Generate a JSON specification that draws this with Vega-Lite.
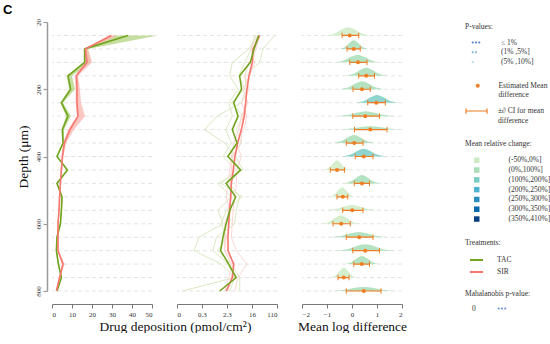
{
  "$schema": "https://vega.github.io/schema/vega-lite/v6.json",
  "padding": {"left": 3, "top": 3, "right": 0, "bottom": 0},
  "background": "white",
  "title": {"text": "C", "anchor": "start", "frame": "group", "dx": -49, "offset": 2, "font": "Liberation Sans", "fontSize": 13, "fontWeight": "bold", "color": "#000"},
  "bounds": "flush",
  "spacing": 25,
  "config": {
    "view": {"stroke": null},
    "axis": {"labelFont": "Liberation Serif", "titleFont": "Liberation Serif", "labelFontSize": 7, "titleFontSize": 13.5, "titleFontWeight": "normal", "labelColor": "#333", "titleColor": "#111", "domainColor": "#777", "tickColor": "#777", "grid": false, "tickSize": 4, "labelOverlap": false},
    "legend": {"orient": "none", "direction": "vertical", "labelFont": "Liberation Serif", "titleFont": "Liberation Serif", "labelFontSize": 7.5, "titleFontSize": 7.5, "titleFontWeight": "normal", "labelColor": "#333", "titleColor": "#333", "padding": 0, "titleAnchor": "start", "labelLimit": 200}
  },
  "datasets": {
    "dep": [
      {"depth":40,"trt":"TAC","mean":38,"lo":31,"hi":53,"gm":26.4},
      {"depth":80,"trt":"TAC","mean":16.3,"lo":16,"hi":18,"gm":18.4},
      {"depth":120,"trt":"TAC","mean":16.3,"lo":16,"hi":19.5,"gm":13.8},
      {"depth":160,"trt":"TAC","mean":8,"lo":7.4,"hi":10,"gm":6.0},
      {"depth":200,"trt":"TAC","mean":9.3,"lo":8.5,"hi":11.5,"gm":7.0},
      {"depth":240,"trt":"TAC","mean":4.7,"lo":4.3,"hi":5.5,"gm":3.8},
      {"depth":280,"trt":"TAC","mean":8,"lo":7,"hi":9.5,"gm":5.3},
      {"depth":320,"trt":"TAC","mean":5.2,"lo":4.8,"hi":6,"gm":3.4},
      {"depth":360,"trt":"TAC","mean":5.5,"lo":5.2,"hi":6,"gm":4.9},
      {"depth":400,"trt":"TAC","mean":2.5,"lo":2.2,"hi":2.8,"gm":2.4},
      {"depth":440,"trt":"TAC","mean":7.7,"lo":7.3,"hi":8.1,"gm":6.5},
      {"depth":480,"trt":"TAC","mean":2.5,"lo":2.2,"hi":2.8,"gm":2.1},
      {"depth":520,"trt":"TAC","mean":5,"lo":4.7,"hi":5.3,"gm":4.4},
      {"depth":560,"trt":"TAC","mean":4.7,"lo":4.4,"hi":5,"gm":2.8},
      {"depth":600,"trt":"TAC","mean":4.2,"lo":3.9,"hi":4.5,"gm":2.1},
      {"depth":640,"trt":"TAC","mean":2.5,"lo":2.2,"hi":2.8,"gm":1.64},
      {"depth":680,"trt":"TAC","mean":2.2,"lo":1.9,"hi":2.5,"gm":1.37},
      {"depth":720,"trt":"TAC","mean":3.2,"lo":2.9,"hi":3.5,"gm":2.56},
      {"depth":760,"trt":"TAC","mean":4.7,"lo":4.4,"hi":5,"gm":4.6},
      {"depth":800,"trt":"TAC","mean":2.5,"lo":2.2,"hi":2.8,"gm":1.27},
      {"depth":40,"trt":"SIR","mean":29.7,"lo":28.5,"hi":33,"gm":28.5},
      {"depth":80,"trt":"SIR","mean":16.7,"lo":16,"hi":18,"gm":17.0},
      {"depth":120,"trt":"SIR","mean":17.5,"lo":16.5,"hi":20,"gm":16.1},
      {"depth":160,"trt":"SIR","mean":12.2,"lo":11.5,"hi":13,"gm":12.4},
      {"depth":200,"trt":"SIR","mean":12.5,"lo":11.8,"hi":14,"gm":10.6},
      {"depth":240,"trt":"SIR","mean":12.5,"lo":11.8,"hi":14.5,"gm":9.6},
      {"depth":280,"trt":"SIR","mean":13,"lo":12.5,"hi":16.5,"gm":8.65},
      {"depth":320,"trt":"SIR","mean":9,"lo":8,"hi":11,"gm":6.85},
      {"depth":360,"trt":"SIR","mean":6.2,"lo":5.5,"hi":7,"gm":5.15},
      {"depth":400,"trt":"SIR","mean":5.2,"lo":4.8,"hi":5.7,"gm":4.18},
      {"depth":440,"trt":"SIR","mean":4.7,"lo":4.3,"hi":5.1,"gm":3.67},
      {"depth":480,"trt":"SIR","mean":4.2,"lo":3.9,"hi":4.5,"gm":3.15},
      {"depth":520,"trt":"SIR","mean":3.8,"lo":3.5,"hi":4.1,"gm":2.99},
      {"depth":560,"trt":"SIR","mean":3.5,"lo":3.2,"hi":3.8,"gm":2.76},
      {"depth":600,"trt":"SIR","mean":3,"lo":2.7,"hi":3.3,"gm":2.56},
      {"depth":640,"trt":"SIR","mean":3,"lo":2.7,"hi":3.3,"gm":2.43},
      {"depth":680,"trt":"SIR","mean":3,"lo":2.7,"hi":3.3,"gm":2.43},
      {"depth":720,"trt":"SIR","mean":5.5,"lo":5,"hi":6.3,"gm":3.77},
      {"depth":760,"trt":"SIR","mean":3.8,"lo":3.5,"hi":4.1,"gm":3.4},
      {"depth":800,"trt":"SIR","mean":2.2,"lo":1.9,"hi":2.5,"gm":2.13}
    ],
    "rep": [
      {"d":40,"t":"TAC","r":1,"v":91.6},{"d":80,"t":"TAC","r":1,"v":37.0},{"d":120,"t":"TAC","r":1,"v":28.5},{"d":160,"t":"TAC","r":1,"v":8.88},{"d":200,"t":"TAC","r":1,"v":10.1},
      {"d":240,"t":"TAC","r":1,"v":6.85},{"d":280,"t":"TAC","r":1,"v":1.03},{"d":320,"t":"TAC","r":1,"v":0.395},{"d":360,"t":"TAC","r":1,"v":1.87},{"d":400,"t":"TAC","r":1,"v":4.41},
      {"d":440,"t":"TAC","r":1,"v":7.8},{"d":480,"t":"TAC","r":1,"v":1.11},{"d":520,"t":"TAC","r":1,"v":3.15},{"d":560,"t":"TAC","r":1,"v":1.11},{"d":600,"t":"TAC","r":1,"v":1.64},
      {"d":640,"t":"TAC","r":1,"v":0.254},{"d":680,"t":"TAC","r":1,"v":0.172},{"d":720,"t":"TAC","r":1,"v":1.44},{"d":760,"t":"TAC","r":1,"v":4.08},{"d":800,"t":"TAC","r":1,"v":0.069},
      {"d":40,"t":"TAC","r":2,"v":22.0},{"d":80,"t":"TAC","r":2,"v":12.4},{"d":120,"t":"TAC","r":2,"v":3.40},{"d":160,"t":"TAC","r":2,"v":2.76},{"d":200,"t":"TAC","r":2,"v":5.28},
      {"d":240,"t":"TAC","r":2,"v":2.62},{"d":280,"t":"TAC","r":2,"v":3.40},{"d":320,"t":"TAC","r":2,"v":2.02},{"d":360,"t":"TAC","r":2,"v":3.15},{"d":400,"t":"TAC","r":2,"v":1.64},
      {"d":440,"t":"TAC","r":2,"v":4.64},{"d":480,"t":"TAC","r":2,"v":1.44},{"d":520,"t":"TAC","r":2,"v":7.40},{"d":560,"t":"TAC","r":2,"v":2.13},{"d":600,"t":"TAC","r":2,"v":1.44},
      {"d":640,"t":"TAC","r":2,"v":2.13},{"d":680,"t":"TAC","r":2,"v":1.11},{"d":720,"t":"TAC","r":2,"v":3.15},{"d":760,"t":"TAC","r":2,"v":6.02},{"d":800,"t":"TAC","r":2,"v":6.02},
      {"d":40,"t":"TAC","r":3,"v":19.3},{"d":80,"t":"TAC","r":3,"v":14.9},{"d":120,"t":"TAC","r":3,"v":8.88},{"d":160,"t":"TAC","r":3,"v":5.71},{"d":200,"t":"TAC","r":3,"v":8.88},
      {"d":240,"t":"TAC","r":3,"v":3.15},{"d":280,"t":"TAC","r":3,"v":7.8},{"d":320,"t":"TAC","r":3,"v":4.64},{"d":360,"t":"TAC","r":3,"v":6.85},{"d":400,"t":"TAC","r":3,"v":3.15},
      {"d":440,"t":"TAC","r":3,"v":6.02},{"d":480,"t":"TAC","r":3,"v":2.76},{"d":520,"t":"TAC","r":3,"v":6.02},{"d":560,"t":"TAC","r":3,"v":4.64},{"d":600,"t":"TAC","r":3,"v":4.08},
      {"d":640,"t":"TAC","r":3,"v":0.98},{"d":680,"t":"TAC","r":3,"v":0.755},{"d":720,"t":"TAC","r":3,"v":2.43},{"d":760,"t":"TAC","r":3,"v":4.08},{"d":800,"t":"TAC","r":3,"v":2.76},
      {"d":40,"t":"SIR","r":4,"v":27.1},{"d":80,"t":"SIR","r":4,"v":22.0},{"d":120,"t":"SIR","r":4,"v":12.4},{"d":160,"t":"SIR","r":4,"v":8.88},{"d":200,"t":"SIR","r":4,"v":13.1},
      {"d":240,"t":"SIR","r":4,"v":6.85},{"d":280,"t":"SIR","r":4,"v":10.6},{"d":320,"t":"SIR","r":4,"v":8.2},{"d":360,"t":"SIR","r":4,"v":4.64},{"d":400,"t":"SIR","r":4,"v":6.85},
      {"d":440,"t":"SIR","r":4,"v":4.89},{"d":480,"t":"SIR","r":4,"v":4.64},{"d":520,"t":"SIR","r":4,"v":4.08},{"d":560,"t":"SIR","r":4,"v":3.6},{"d":600,"t":"SIR","r":4,"v":3.40},
      {"d":640,"t":"SIR","r":4,"v":3.15},{"d":680,"t":"SIR","r":4,"v":4.64},{"d":720,"t":"SIR","r":4,"v":10.6},{"d":760,"t":"SIR","r":4,"v":5.28},{"d":800,"t":"SIR","r":4,"v":4.08},
      {"d":40,"t":"SIR","r":5,"v":25.1},{"d":80,"t":"SIR","r":5,"v":13.8},{"d":120,"t":"SIR","r":5,"v":19.3},{"d":160,"t":"SIR","r":5,"v":13.1},{"d":200,"t":"SIR","r":5,"v":7.8},
      {"d":240,"t":"SIR","r":5,"v":11.5},{"d":280,"t":"SIR","r":5,"v":6.85},{"d":320,"t":"SIR","r":5,"v":5.71},{"d":360,"t":"SIR","r":5,"v":3.77},{"d":400,"t":"SIR","r":5,"v":3.15},
      {"d":440,"t":"SIR","r":5,"v":2.76},{"d":480,"t":"SIR","r":5,"v":2.43},{"d":520,"t":"SIR","r":5,"v":2.13},{"d":560,"t":"SIR","r":5,"v":2.76},{"d":600,"t":"SIR","r":5,"v":1.87},
      {"d":640,"t":"SIR","r":5,"v":1.87},{"d":680,"t":"SIR","r":5,"v":1.87},{"d":720,"t":"SIR","r":5,"v":3.15},{"d":760,"t":"SIR","r":5,"v":2.62},{"d":800,"t":"SIR","r":5,"v":1.87},
      {"d":40,"t":"SIR","r":6,"v":30.1},{"d":80,"t":"SIR","r":6,"v":19.3},{"d":120,"t":"SIR","r":6,"v":17.0},{"d":160,"t":"SIR","r":6,"v":13.1},{"d":200,"t":"SIR","r":6,"v":10.6},
      {"d":240,"t":"SIR","r":6,"v":9.6},{"d":280,"t":"SIR","r":6,"v":7.8},{"d":320,"t":"SIR","r":6,"v":6.85},{"d":360,"t":"SIR","r":6,"v":6.85},{"d":400,"t":"SIR","r":6,"v":3.40},
      {"d":440,"t":"SIR","r":6,"v":3.15},{"d":480,"t":"SIR","r":6,"v":2.9},{"d":520,"t":"SIR","r":6,"v":3.15},{"d":560,"t":"SIR","r":6,"v":2.43},{"d":600,"t":"SIR","r":6,"v":2.76},
      {"d":640,"t":"SIR","r":6,"v":2.13},{"d":680,"t":"SIR","r":6,"v":1.87},{"d":720,"t":"SIR","r":6,"v":4.08},{"d":760,"t":"SIR","r":6,"v":3.15},{"d":800,"t":"SIR","r":6,"v":2.43}
    ],
    "diff": [
      {"depth":40,"est":-0.09,"lo":-0.4,"hi":0.27},
      {"depth":80,"est":0.07,"lo":-0.2,"hi":0.33},
      {"depth":120,"est":0.24,"lo":-0.09,"hi":0.6},
      {"depth":160,"est":0.57,"lo":0.27,"hi":0.9},
      {"depth":200,"est":0.4,"lo":0.04,"hi":0.73},
      {"depth":240,"est":0.97,"lo":0.63,"hi":1.33},
      {"depth":280,"est":0.53,"lo":0.03,"hi":1.1},
      {"depth":320,"est":0.73,"lo":0.1,"hi":1.4},
      {"depth":360,"est":0.09,"lo":-0.23,"hi":0.44},
      {"depth":400,"est":0.47,"lo":0.13,"hi":0.84},
      {"depth":440,"est":-0.6,"lo":-0.87,"hi":-0.3},
      {"depth":480,"est":0.4,"lo":0.09,"hi":0.7},
      {"depth":520,"est":-0.37,"lo":-0.6,"hi":-0.17},
      {"depth":560,"est":0.01,"lo":-0.37,"hi":0.44},
      {"depth":600,"est":-0.43,"lo":-0.76,"hi":-0.07},
      {"depth":640,"est":0.29,"lo":-0.23,"hi":0.84},
      {"depth":680,"est":0.53,"lo":0.03,"hi":1.1},
      {"depth":720,"est":0.39,"lo":0.07,"hi":0.7},
      {"depth":760,"est":-0.33,"lo":-0.56,"hi":-0.12},
      {"depth":800,"est":0.47,"lo":-0.23,"hi":1.16}
    ],
    "dens": [
      {"d":40,"c":"(-50%,0%]","x":-1.01,"top":39.4},{"d":40,"c":"(-50%,0%]","x":-0.66,"top":33.1},{"d":40,"c":"(-50%,0%]","x":-0.41,"top":22.1},{"d":40,"c":"(-50%,0%]","x":-0.15,"top":15.3},{"d":40,"c":"(-50%,0%]","x":0.11,"top":22.1},{"d":40,"c":"(-50%,0%]","x":0.36,"top":33.1},{"d":40,"c":"(-50%,0%]","x":0.71,"top":39.4},
      {"d":80,"c":"(0%,100%]","x":-0.47,"top":79.3},{"d":80,"c":"(0%,100%]","x":-0.25,"top":72.8},{"d":80,"c":"(0%,100%]","x":-0.09,"top":61.3},{"d":80,"c":"(0%,100%]","x":0.07,"top":54.2},{"d":80,"c":"(0%,100%]","x":0.23,"top":61.3},{"d":80,"c":"(0%,100%]","x":0.39,"top":72.8},{"d":80,"c":"(0%,100%]","x":0.61,"top":79.3},
      {"d":120,"c":"(0%,100%]","x":-0.67,"top":119.4},{"d":120,"c":"(0%,100%]","x":-0.31,"top":113.6},{"d":120,"c":"(0%,100%]","x":-0.04,"top":103.4},{"d":120,"c":"(0%,100%]","x":0.22,"top":97.1},{"d":120,"c":"(0%,100%]","x":0.48,"top":103.4},{"d":120,"c":"(0%,100%]","x":0.75,"top":113.6},{"d":120,"c":"(0%,100%]","x":1.11,"top":119.4},
      {"d":160,"c":"(0%,100%]","x":-0.24,"top":159.4},{"d":160,"c":"(0%,100%]","x":0.09,"top":153.4},{"d":160,"c":"(0%,100%]","x":0.33,"top":142.7},{"d":160,"c":"(0%,100%]","x":0.57,"top":136.2},{"d":160,"c":"(0%,100%]","x":0.81,"top":142.7},{"d":160,"c":"(0%,100%]","x":1.05,"top":153.4},{"d":160,"c":"(0%,100%]","x":1.38,"top":159.4},
      {"d":200,"c":"(0%,100%]","x":-0.46,"top":199.4},{"d":200,"c":"(0%,100%]","x":-0.11,"top":193.4},{"d":200,"c":"(0%,100%]","x":0.14,"top":182.7},{"d":200,"c":"(0%,100%]","x":0.4,"top":176.2},{"d":200,"c":"(0%,100%]","x":0.66,"top":182.7},{"d":200,"c":"(0%,100%]","x":0.91,"top":193.4},{"d":200,"c":"(0%,100%]","x":1.26,"top":199.4},
      {"d":240,"c":"(100%,200%]","x":0.19,"top":239.4},{"d":240,"c":"(100%,200%]","x":0.52,"top":233.6},{"d":240,"c":"(100%,200%]","x":0.76,"top":223.4},{"d":240,"c":"(100%,200%]","x":1.0,"top":217.1},{"d":240,"c":"(100%,200%]","x":1.24,"top":223.4},{"d":240,"c":"(100%,200%]","x":1.48,"top":233.6},{"d":240,"c":"(100%,200%]","x":1.81,"top":239.4},
      {"d":280,"c":"(0%,100%]","x":-0.58,"top":279.6},{"d":280,"c":"(0%,100%]","x":-0.12,"top":275.9},{"d":280,"c":"(0%,100%]","x":0.21,"top":269.2},{"d":280,"c":"(0%,100%]","x":0.55,"top":265.1},{"d":280,"c":"(0%,100%]","x":0.89,"top":269.2},{"d":280,"c":"(0%,100%]","x":1.22,"top":275.9},{"d":280,"c":"(0%,100%]","x":1.68,"top":279.6},
      {"d":320,"c":"(0%,100%]","x":-0.67,"top":319.7},{"d":320,"c":"(0%,100%]","x":-0.10,"top":317.3},{"d":320,"c":"(0%,100%]","x":0.31,"top":312.9},{"d":320,"c":"(0%,100%]","x":0.73,"top":310.2},{"d":320,"c":"(0%,100%]","x":1.15,"top":312.9},{"d":320,"c":"(0%,100%]","x":1.56,"top":317.3},{"d":320,"c":"(0%,100%]","x":2.0,"top":319.5},
      {"d":360,"c":"(0%,100%]","x":-0.73,"top":359.4},{"d":360,"c":"(0%,100%]","x":-0.40,"top":353.4},{"d":360,"c":"(0%,100%]","x":-0.16,"top":342.7},{"d":360,"c":"(0%,100%]","x":0.08,"top":336.2},{"d":360,"c":"(0%,100%]","x":0.32,"top":342.7},{"d":360,"c":"(0%,100%]","x":0.56,"top":353.4},{"d":360,"c":"(0%,100%]","x":0.89,"top":359.4},
      {"d":400,"c":"(100%,200%]","x":-0.39,"top":399.4},{"d":400,"c":"(100%,200%]","x":-0.04,"top":393.6},{"d":400,"c":"(100%,200%]","x":0.21,"top":383.4},{"d":400,"c":"(100%,200%]","x":0.47,"top":377.1},{"d":400,"c":"(100%,200%]","x":0.73,"top":383.4},{"d":400,"c":"(100%,200%]","x":0.98,"top":393.6},{"d":400,"c":"(100%,200%]","x":1.33,"top":399.4},
      {"d":440,"c":"(-50%,0%]","x":-1.09,"top":439.3},{"d":440,"c":"(-50%,0%]","x":-0.89,"top":432.0},{"d":440,"c":"(-50%,0%]","x":-0.74,"top":419.1},{"d":440,"c":"(-50%,0%]","x":-0.6,"top":411.2},{"d":440,"c":"(-50%,0%]","x":-0.46,"top":419.1},{"d":440,"c":"(-50%,0%]","x":-0.31,"top":432.0},{"d":440,"c":"(-50%,0%]","x":-0.11,"top":439.3},
      {"d":480,"c":"(0%,100%]","x":-0.30,"top":479.4},{"d":480,"c":"(0%,100%]","x":-0.02,"top":473.1},{"d":480,"c":"(0%,100%]","x":0.19,"top":462.1},{"d":480,"c":"(0%,100%]","x":0.4,"top":455.3},{"d":480,"c":"(0%,100%]","x":0.61,"top":462.1},{"d":480,"c":"(0%,100%]","x":0.82,"top":473.1},{"d":480,"c":"(0%,100%]","x":1.10,"top":479.4},
      {"d":520,"c":"(-50%,0%]","x":-0.89,"top":519.3},{"d":520,"c":"(-50%,0%]","x":-0.69,"top":512.0},{"d":520,"c":"(-50%,0%]","x":-0.54,"top":499.1},{"d":520,"c":"(-50%,0%]","x":-0.4,"top":491.2},{"d":520,"c":"(-50%,0%]","x":-0.26,"top":499.1},{"d":520,"c":"(-50%,0%]","x":-0.11,"top":512.0},{"d":520,"c":"(-50%,0%]","x":0.09,"top":519.3},
      {"d":560,"c":"(-50%,0%]","x":-1.03,"top":559.6},{"d":560,"c":"(-50%,0%]","x":-0.61,"top":555.6},{"d":560,"c":"(-50%,0%]","x":-0.30,"top":548.6},{"d":560,"c":"(-50%,0%]","x":0.0,"top":544.3},{"d":560,"c":"(-50%,0%]","x":0.30,"top":548.6},{"d":560,"c":"(-50%,0%]","x":0.61,"top":555.6},{"d":560,"c":"(-50%,0%]","x":1.03,"top":559.6},
      {"d":600,"c":"(-50%,0%]","x":-1.18,"top":599.4},{"d":600,"c":"(-50%,0%]","x":-0.88,"top":593.1},{"d":600,"c":"(-50%,0%]","x":-0.67,"top":582.1},{"d":600,"c":"(-50%,0%]","x":-0.45,"top":575.3},{"d":600,"c":"(-50%,0%]","x":-0.23,"top":582.1},{"d":600,"c":"(-50%,0%]","x":-0.02,"top":593.1},{"d":600,"c":"(-50%,0%]","x":0.28,"top":599.4},
      {"d":640,"c":"(0%,100%]","x":-0.84,"top":639.6},{"d":640,"c":"(0%,100%]","x":-0.39,"top":635.6},{"d":640,"c":"(0%,100%]","x":-0.06,"top":628.6},{"d":640,"c":"(0%,100%]","x":0.27,"top":624.3},{"d":640,"c":"(0%,100%]","x":0.60,"top":628.6},{"d":640,"c":"(0%,100%]","x":0.93,"top":635.6},{"d":640,"c":"(0%,100%]","x":1.38,"top":639.6},
      {"d":680,"c":"(0%,100%]","x":-0.60,"top":679.5},{"d":680,"c":"(0%,100%]","x":-0.14,"top":674.8},{"d":680,"c":"(0%,100%]","x":0.19,"top":666.4},{"d":680,"c":"(0%,100%]","x":0.53,"top":661.3},{"d":680,"c":"(0%,100%]","x":0.87,"top":666.4},{"d":680,"c":"(0%,100%]","x":1.20,"top":674.8},{"d":680,"c":"(0%,100%]","x":1.66,"top":679.5},
      {"d":720,"c":"(0%,100%]","x":-0.28,"top":719.4},{"d":720,"c":"(0%,100%]","x":0.0,"top":713.4},{"d":720,"c":"(0%,100%]","x":0.2,"top":702.7},{"d":720,"c":"(0%,100%]","x":0.4,"top":696.2},{"d":720,"c":"(0%,100%]","x":0.6,"top":702.7},{"d":720,"c":"(0%,100%]","x":0.8,"top":713.4},{"d":720,"c":"(0%,100%]","x":1.08,"top":719.4},
      {"d":760,"c":"(-50%,0%]","x":-0.82,"top":759.2},{"d":760,"c":"(-50%,0%]","x":-0.62,"top":751.7},{"d":760,"c":"(-50%,0%]","x":-0.47,"top":738.4},{"d":760,"c":"(-50%,0%]","x":-0.33,"top":730.3},{"d":760,"c":"(-50%,0%]","x":-0.19,"top":738.4},{"d":760,"c":"(-50%,0%]","x":-0.04,"top":751.7},{"d":760,"c":"(-50%,0%]","x":0.16,"top":759.2},
      {"d":800,"c":"(0%,100%]","x":-0.88,"top":799.7},{"d":800,"c":"(0%,100%]","x":-0.33,"top":796.7},{"d":800,"c":"(0%,100%]","x":0.07,"top":791.4},{"d":800,"c":"(0%,100%]","x":0.47,"top":788.1},{"d":800,"c":"(0%,100%]","x":0.87,"top":791.4},{"d":800,"c":"(0%,100%]","x":1.27,"top":796.7},{"d":800,"c":"(0%,100%]","x":1.82,"top":799.7}
    ]
  },
  "hconcat": [
    {
      "width": 100, "height": 269,
      "layer": [
        {"data": {"name": "diff"}, "mark": {"type": "rule", "stroke": "#dddddd", "strokeDash": [4, 3], "strokeWidth": 0.8},
         "encoding": {"y": {"field": "depth", "type": "quantitative", "scale": {"domain": [0, 800], "reverse": true, "nice": false, "zero": false},
           "axis": {"values": [0, 200, 400, 600, 800], "labelExpr": "datum.value == 0 ? '20' : datum.label", "labelAngle": -90, "labelAlign": "center", "labelBaseline": "bottom", "labelPadding": 2, "labelOverlap": false, "offset": 5, "domainColor": "#9a9a9a", "domainWidth": 1.5, "tickColor": "#9a9a9a", "tickWidth": 1.2, "title": "Depth (μm)", "titlePadding": 4}}}},
        {"data": {"name": "dep"}, "transform": [{"filter": "datum.trt == 'TAC'"}], "mark": {"type": "area", "orient": "horizontal", "fill": "#bcd88f", "opacity": 0.85},
         "encoding": {"x": {"field": "lo", "type": "quantitative", "scale": {"domain": [0, 50], "nice": false},
           "axis": {"values": [0, 10, 20, 30, 40, 50], "labelOverlap": false, "offset": 13, "title": "Drug deposition (pmol/cm²)", "titleX": 123, "titlePadding": 2, "labelPadding": 2}},
           "x2": {"field": "hi"}, "y": {"field": "depth", "type": "quantitative"}}},
        {"data": {"name": "dep"}, "transform": [{"filter": "datum.trt == 'SIR'"}], "mark": {"type": "area", "orient": "horizontal", "fill": "#f9b9b4", "opacity": 0.8},
         "encoding": {"x": {"field": "lo", "type": "quantitative",
           "axis": {"values": [0, 10, 20, 30, 40, 50], "labelOverlap": false, "offset": 13, "title": "Drug deposition (pmol/cm²)", "titleX": 123, "titlePadding": 2, "labelPadding": 2}},
           "x2": {"field": "hi"}, "y": {"field": "depth", "type": "quantitative"}}},
        {"data": {"name": "dep"}, "mark": {"type": "line", "strokeWidth": 1.6},
         "encoding": {"x": {"field": "mean", "type": "quantitative",
           "axis": {"values": [0, 10, 20, 30, 40, 50], "labelOverlap": false, "offset": 13, "title": "Drug deposition (pmol/cm²)", "titleX": 123, "titlePadding": 2, "labelPadding": 2}},
           "y": {"field": "depth", "type": "quantitative"}, "order": {"field": "depth"},
           "stroke": {"field": "trt", "type": "nominal", "scale": {"domain": ["TAC", "SIR"], "range": ["#72a51e", "#f7776f"]},
             "legend": {"title": "Treatments:", "legendX": 413, "legendY": 217, "symbolType": "stroke", "symbolSize": 169, "symbolStrokeWidth": 2, "symbolOffset": 4, "labelOffset": 13, "rowPadding": -3, "titlePadding": 6}}}}
      ]
    },
    {
      "width": 100, "height": 269,
      "layer": [
        {"data": {"name": "diff"}, "mark": {"type": "rule", "stroke": "#dddddd", "strokeDash": [4, 3], "strokeWidth": 0.8},
         "encoding": {"y": {"field": "depth", "type": "quantitative", "scale": {"domain": [0, 800], "reverse": true, "nice": false, "zero": false}, "axis": null}}},
        {"data": {"name": "rep"}, "transform": [{"filter": "datum.t == 'TAC'"}], "mark": {"type": "line", "stroke": "#d6e5bb", "strokeWidth": 0.9},
         "encoding": {"x": {"field": "v", "type": "quantitative", "scale": {"type": "log", "domain": [0.0458, 110], "nice": false},
           "axis": {"values": [0.0458, 0.3206, 2.244, 15.71, 110], "labelExpr": "datum.value < 0.1 ? '0' : datum.value < 1 ? '0.3' : datum.value < 5 ? '2.3' : datum.value < 50 ? '16' : '110'", "labelOverlap": false, "offset": 13, "title": null, "labelPadding": 2}},
           "y": {"field": "d", "type": "quantitative"}, "detail": {"field": "r"}, "order": {"field": "d"}}},
        {"data": {"name": "rep"}, "transform": [{"filter": "datum.t == 'SIR'"}], "mark": {"type": "line", "stroke": "#fbd2d0", "strokeWidth": 0.9},
         "encoding": {"x": {"field": "v", "type": "quantitative"}, "y": {"field": "d", "type": "quantitative"}, "detail": {"field": "r"}, "order": {"field": "d"}}},
        {"data": {"name": "dep"}, "transform": [{"filter": "datum.trt == 'SIR'"}], "mark": {"type": "line", "stroke": "#f7776f", "strokeWidth": 1.6},
         "encoding": {"x": {"field": "gm", "type": "quantitative"}, "y": {"field": "depth", "type": "quantitative"}, "order": {"field": "depth"}}},
        {"data": {"name": "dep"}, "transform": [{"filter": "datum.trt == 'TAC'"}], "mark": {"type": "line", "stroke": "#72a51e", "strokeWidth": 1.6},
         "encoding": {"x": {"field": "gm", "type": "quantitative"}, "y": {"field": "depth", "type": "quantitative"}, "order": {"field": "depth"}}}
      ]
    },
    {
      "width": 100, "height": 269,
      "layer": [
        {"data": {"name": "diff"}, "mark": {"type": "rule", "stroke": "#dddddd", "strokeDash": [4, 3], "strokeWidth": 0.8},
         "encoding": {"y": {"field": "depth", "type": "quantitative", "scale": {"domain": [0, 800], "reverse": true, "nice": false, "zero": false}, "axis": null}}},
        {"data": {"name": "dens"}, "mark": {"type": "area", "interpolate": "monotone", "opacity": 0.85},
         "encoding": {"x": {"field": "x", "type": "quantitative", "scale": {"domain": [-2, 2], "nice": false},
           "axis": {"values": [-2, -1, 0, 1, 2], "labelOverlap": false, "offset": 13, "title": "Mean log difference", "titlePadding": 2, "labelPadding": 2}},
           "y": {"field": "top", "type": "quantitative"}, "y2": {"field": "d"}, "detail": {"field": "d"},
           "fill": {"field": "c", "type": "nominal", "scale": {"domain": ["(-50%,0%]", "(0%,100%]", "(100%,200%]", "(200%,250%]", "(250%,300%]", "(300%,350%]", "(350%,410%]"], "range": ["#ccebc5", "#a8ddb5", "#7bccc4", "#4eb3d3", "#2b8cbe", "#0868ac", "#084081"]},
             "legend": {"title": "Mean relative change:", "legendX": 413, "legendY": 118, "symbolType": "square", "symbolSize": 30, "symbolOpacity": 1, "symbolStrokeWidth": 0, "symbolOffset": 8, "labelOffset": 28, "rowPadding": 0.8, "titlePadding": 9}}}},
        {"mark": {"type": "rule", "stroke": "#555555", "strokeDash": [4, 3], "strokeWidth": 1},
         "encoding": {"x": {"datum": 0, "type": "quantitative",
           "axis": {"values": [-2, -1, 0, 1, 2], "labelOverlap": false, "offset": 13, "title": "Mean log difference", "titlePadding": 2, "labelPadding": 2}},
           "y": {"datum": -25, "type": "quantitative"}, "y2": {"datum": 830}}},
        {"data": {"name": "diff"}, "mark": {"type": "rule", "stroke": "#ef7d22", "strokeWidth": 1.2},
         "encoding": {"x": {"field": "lo", "type": "quantitative",
           "axis": {"values": [-2, -1, 0, 1, 2], "labelOverlap": false, "offset": 13, "title": "Mean log difference", "titlePadding": 2, "labelPadding": 2}},
           "x2": {"field": "hi"}, "y": {"field": "depth", "type": "quantitative"},
           "strokeDash": {"datum": "ci", "type": "nominal", "scale": {"domain": ["ci"], "range": [[1, 0]]},
             "legend": {"title": null, "legendX": 413, "legendY": 77.5, "symbolType": "M-1,0L1,0M-1,-0.25L-1,0.25M1,-0.25L1,0.25", "symbolSize": 441, "symbolStrokeWidth": 1.2, "symbolStrokeColor": "#ef7d22", "symbolOffset": 0, "labelOffset": 10, "labelBaseline": "middle", "labelExpr": "['±∂ CI for mean', 'difference']"}}}},
        {"data": {"name": "diff"}, "mark": {"type": "point", "shape": "M0,-1L0,1", "stroke": "#ef7d22", "strokeWidth": 1, "size": 30, "opacity": 1},
         "encoding": {"x": {"field": "lo", "type": "quantitative",
           "axis": {"values": [-2, -1, 0, 1, 2], "labelOverlap": false, "offset": 13, "title": "Mean log difference", "titlePadding": 2, "labelPadding": 2}},
           "y": {"field": "depth", "type": "quantitative"}}},
        {"data": {"name": "diff"}, "mark": {"type": "point", "shape": "M0,-1L0,1", "stroke": "#ef7d22", "strokeWidth": 1, "size": 30, "opacity": 1},
         "encoding": {"x": {"field": "hi", "type": "quantitative",
           "axis": {"values": [-2, -1, 0, 1, 2], "labelOverlap": false, "offset": 13, "title": "Mean log difference", "titlePadding": 2, "labelPadding": 2}},
           "y": {"field": "depth", "type": "quantitative"}}},
        {"data": {"name": "diff"}, "mark": {"type": "point", "filled": true, "color": "#ef7d22", "opacity": 1},
         "encoding": {"x": {"field": "est", "type": "quantitative",
           "axis": {"values": [-2, -1, 0, 1, 2], "labelOverlap": false, "offset": 13, "title": "Mean log difference", "titlePadding": 2, "labelPadding": 2}},
           "y": {"field": "depth", "type": "quantitative"},
           "size": {"datum": "est", "type": "nominal", "scale": {"domain": ["est"], "range": [16, 16]},
             "legend": {"title": null, "legendX": 413, "legendY": 60, "symbolOffset": 9, "labelOffset": 17, "labelBaseline": "middle", "labelExpr": "['Estimated Mean', 'difference']"}}}},
        {"data": {"values": []}, "mark": {"type": "point", "filled": true, "opacity": 1},
         "encoding": {
           "shape": {"field": "pv", "type": "nominal", "scale": {"domain": ["≤ 1%", "(1% ,5%]", "(5% ,10%]"], "range": [
             "M-0.86,0A0.2,0.2,0,1,1,-0.46,0A0.2,0.2,0,1,1,-0.86,0ZM-0.2,0A0.2,0.2,0,1,1,0.2,0A0.2,0.2,0,1,1,-0.2,0ZM0.46,0A0.2,0.2,0,1,1,0.86,0A0.2,0.2,0,1,1,0.46,0Z",
             "M-0.86,0A0.2,0.2,0,1,1,-0.46,0A0.2,0.2,0,1,1,-0.86,0ZM-0.2,0A0.2,0.2,0,1,1,0.2,0A0.2,0.2,0,1,1,-0.2,0Z",
             "M-0.86,0A0.2,0.2,0,1,1,-0.46,0A0.2,0.2,0,1,1,-0.86,0Z"]},
             "legend": {"title": "P-values:", "legendX": 413, "legendY": 1, "symbolSize": 100, "symbolOffset": 6, "labelOffset": 20, "rowPadding": 0.7, "titlePadding": 7, "symbolStrokeWidth": 0}},
           "color": {"field": "pv", "type": "nominal", "scale": {"domain": ["≤ 1%", "(1% ,5%]", "(5% ,10%]"], "range": ["#4f7fc8", "#7db3de", "#a9dde2"]},
             "legend": {"title": "P-values:", "legendX": 413, "legendY": 1, "symbolSize": 100, "symbolOffset": 6, "labelOffset": 20, "rowPadding": 0.7, "titlePadding": 7, "symbolStrokeWidth": 0}}}},
        {"data": {"values": []}, "mark": {"type": "point", "filled": true, "color": "#6b93d6", "opacity": 1},
         "encoding": {
           "opacity": {"datum": "0", "type": "nominal", "scale": {"domain": ["0"], "range": [1, 1]},
             "legend": {"title": "Mahalanobis p-value:", "legendX": 413, "legendY": 268, "symbolType": "M-0.86,0A0.2,0.2,0,1,1,-0.46,0A0.2,0.2,0,1,1,-0.86,0ZM-0.2,0A0.2,0.2,0,1,1,0.2,0A0.2,0.2,0,1,1,-0.2,0ZM0.46,0A0.2,0.2,0,1,1,0.86,0A0.2,0.2,0,1,1,0.46,0Z", "symbolSize": 100, "symbolFillColor": "#6b93d6", "symbolStrokeWidth": 0, "symbolOffset": 32, "labelOffset": -35, "titlePadding": 6}}}}
      ]
    }
  ]
}
